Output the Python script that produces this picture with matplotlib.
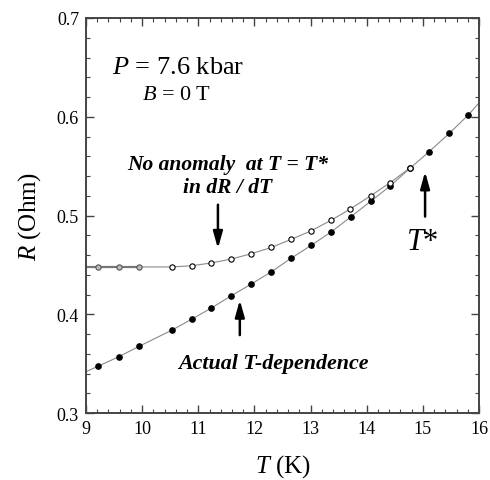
import matplotlib
matplotlib.use("Agg")
import matplotlib.pyplot as plt
from matplotlib.ticker import MultipleLocator

plt.rcParams['font.family'] = 'Liberation Serif'
plt.rcParams['mathtext.fontset'] = 'custom'
plt.rcParams['mathtext.rm'] = 'Liberation Serif'
plt.rcParams['mathtext.it'] = 'Liberation Serif:italic'
plt.rcParams['mathtext.bf'] = 'Liberation Serif:bold'

# actual T-dependence (filled points)
t_actual = [9.22, 9.58, 9.94, 10.53, 10.88, 11.23, 11.58, 11.94, 12.30, 12.65,
            13.01, 13.37, 13.72, 14.07, 14.42, 14.77, 15.11, 15.47, 15.81]
r_actual = [0.3476, 0.357, 0.3675, 0.384, 0.395, 0.4063, 0.4185, 0.4306, 0.443, 0.4567,
            0.4698, 0.4836, 0.4988, 0.5144, 0.530, 0.5478, 0.5646, 0.5832, 0.6018]
# line runs to the axes edges
t_actual_line = [9.0] + t_actual + [16.0]
r_actual_line = [0.342] + r_actual + [0.614]

# curve with no anomaly (open points)
t_open = [9.22, 9.58, 9.94, 10.53, 10.88, 11.23, 11.58, 11.94, 12.30, 12.65,
          13.01, 13.37, 13.71, 14.07, 14.42, 14.77]
r_open = [0.448, 0.448, 0.448, 0.448, 0.4492, 0.452, 0.4559, 0.4613, 0.4677, 0.4758,
          0.4845, 0.4954, 0.5067, 0.520, 0.5334, 0.5482]
t_flat = [9.0, 9.22, 9.58, 9.94]
r_flat = [0.448, 0.448, 0.448, 0.448]

fig = plt.figure(figsize=(4.9, 4.81), dpi=100)
ax = fig.add_axes([0.1755, 0.139, 0.802, 0.8215])

ax.plot(t_actual_line, r_actual_line, color='#8a8a8a', lw=0.8, zorder=1)
ax.plot(t_actual, r_actual, 'o', color='black', ms=3.8, zorder=3)
ax.plot([9.0] + t_open, [0.448] + r_open, color='#8a8a8a', lw=0.8, zorder=1)
ax.plot(t_flat, r_flat, color='#777777', lw=1.6, zorder=1)
ax.plot(t_open[:3], r_open[:3], 'o', mfc='#bbbbbb', mec='#555555', mew=0.8, ms=3.8, zorder=3)
ax.plot(t_open[3:], r_open[3:], 'o', mfc='white', mec='black', mew=0.8, ms=3.8, zorder=3)

ax.set_xlim(9, 16)
ax.set_ylim(0.3, 0.7)
ax.xaxis.set_major_locator(MultipleLocator(1))
ax.xaxis.set_minor_locator(MultipleLocator(0.2))
ax.yaxis.set_major_locator(MultipleLocator(0.1))
ax.yaxis.set_minor_locator(MultipleLocator(0.02))
ax.tick_params(which='both', direction='in', top=True, right=True, color='#444444')
ax.tick_params(which='major', length=6, width=1, labelsize=13, pad=5)
ax.tick_params(which='minor', length=3, width=0.8)
for s in ax.spines.values():
    s.set_color('#444444')
    s.set_linewidth(1.4)

ax.set_xlabel(r'$T$ (K)', fontsize=18, labelpad=11)
ax.set_ylabel(r'$R$ (Ohm)', fontsize=18, labelpad=10)

ax.text(9.47, 0.6443, r'$P$ = 7.6 kbar', fontsize=19, va='baseline')
ax.text(10.0, 0.618, r'$B$ = 0 T', fontsize=16, va='baseline')

ax.text(11.53, 0.5471, 'No anomaly  at T = T*', fontsize=15.5, fontweight='bold',
        fontstyle='italic', ha='center', va='baseline')
ax.text(11.53, 0.5238, 'in dR / dT', fontsize=15.5, fontweight='bold',
        fontstyle='italic', ha='center', va='baseline')
ax.text(12.33, 0.3453, 'Actual T-dependence', fontsize=15.8, fontweight='bold',
        fontstyle='italic', ha='center', va='baseline')
ax.text(15.0, 0.466, r'$T$*', fontsize=22, ha='center', va='baseline')

arrow = dict(arrowstyle='-|>,head_length=1.0,head_width=0.28', color='black', lw=1.8,
             shrinkA=0, shrinkB=0)
ax.annotate('', xy=(11.35, 0.4666), xytext=(11.35, 0.511), arrowprops=arrow)
ax.annotate('', xy=(15.04, 0.5444), xytext=(15.04, 0.499), arrowprops=arrow)
ax.annotate('', xy=(11.74, 0.4145), xytext=(11.74, 0.379), arrowprops=arrow)

fig.savefig('out.png', dpi=100)
